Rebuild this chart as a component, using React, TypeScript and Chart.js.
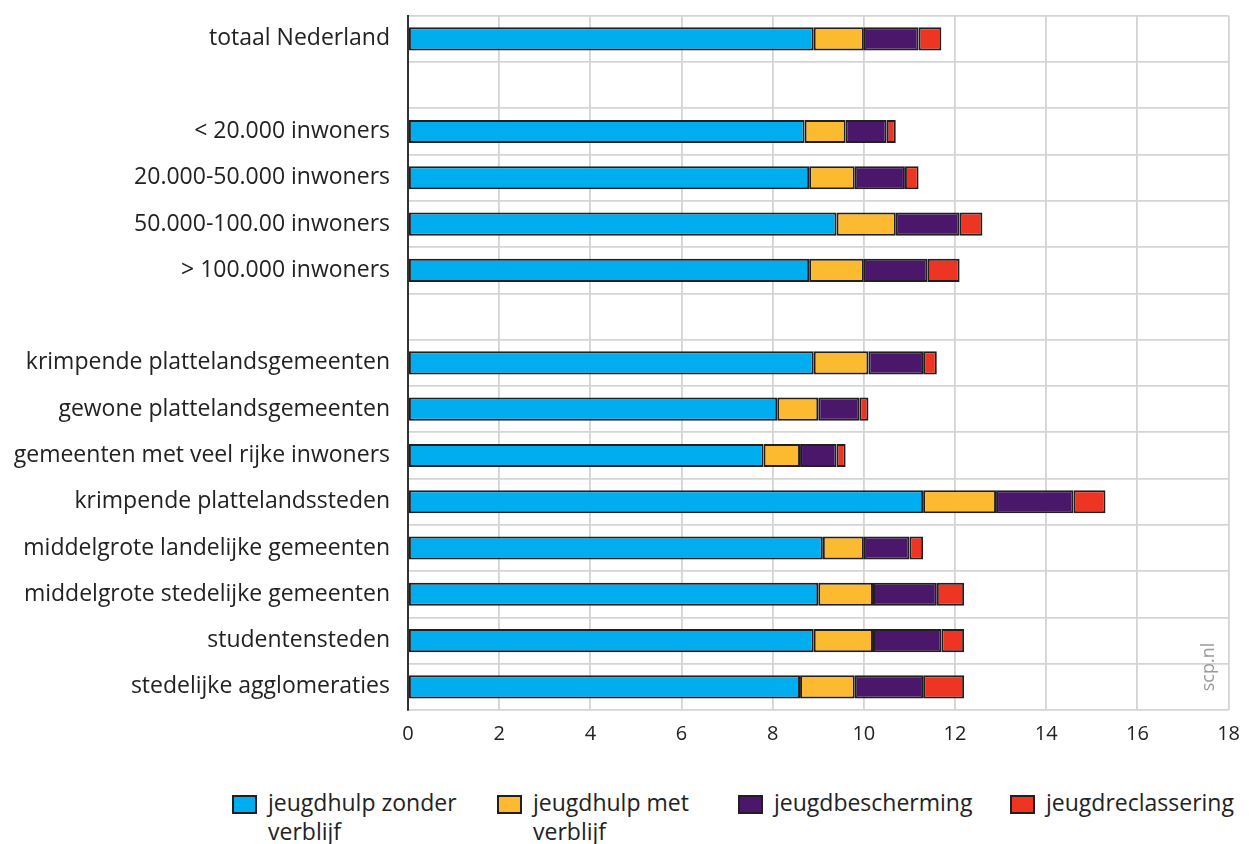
import React, { useEffect, useRef } from "react";
import { Chart, registerables } from "chart.js";

Chart.register(...registerables);

const categories = [
  "totaal Nederland",
  "",
  "< 20.000 inwoners",
  "20.000-50.000 inwoners",
  "50.000-100.00 inwoners",
  "> 100.000 inwoners",
  "",
  "krimpende plattelandsgemeenten",
  "gewone plattelandsgemeenten",
  "gemeenten met veel rijke inwoners",
  "krimpende plattelandssteden",
  "middelgrote landelijke gemeenten",
  "middelgrote stedelijke gemeenten",
  "studentensteden",
  "stedelijke agglomeraties",
];

const zonderVerblijf = [8.9, null, 8.7, 8.8, 9.4, 8.8, null, 8.9, 8.1, 7.8, 11.3, 9.1, 9.0, 8.9, 8.6];
const metVerblijf = [1.1, null, 0.9, 1.0, 1.3, 1.2, null, 1.2, 0.9, 0.8, 1.6, 0.9, 1.2, 1.3, 1.2];
const bescherming = [1.2, null, 0.9, 1.1, 1.4, 1.4, null, 1.2, 0.9, 0.8, 1.7, 1.0, 1.4, 1.5, 1.5];
const reclassering = [0.5, null, 0.2, 0.3, 0.5, 0.7, null, 0.3, 0.2, 0.2, 0.7, 0.3, 0.6, 0.5, 0.9];

const seriesLabels = [
  "jeugdhulp zonder verblijf",
  "jeugdhulp met verblijf",
  "jeugdbescherming",
  "jeugdreclassering",
];
const seriesColors = ["#00AEEF", "#FBBA30", "#4A176A", "#EE3524"];

const xTickMin = 0;
const xTickMax = 18;
const xTickStep = 2;

const FONT = "'Open Sans', 'Noto Sans', sans-serif";

const watermark = {
  id: "watermark",
  afterDraw(chart: any) {
    const { ctx, chartArea } = chart;
    ctx.save();
    ctx.translate(chartArea.right - 20, chartArea.bottom - 43);
    ctx.rotate(-Math.PI / 2);
    ctx.font = `18px ${FONT}`;
    ctx.fillStyle = "#9a9a9a";
    ctx.textAlign = "center";
    ctx.textBaseline = "middle";
    ctx.fillText("scp.nl", 0, 0);
    ctx.restore();
  },
};

export default function App() {
  const ref = useRef<HTMLCanvasElement | null>(null);

  useEffect(() => {
    document.documentElement.style.overflow = "hidden";
    if (!ref.current) return;
    const data = [zonderVerblijf, metVerblijf, bescherming, reclassering];
    const chart = new Chart(ref.current, {
      type: "bar",
      data: {
        labels: categories,
        datasets: data.map((d, i) => ({
          label: seriesLabels[i],
          data: d as any,
          backgroundColor: seriesColors[i],
          borderColor: "#231f20",
          borderWidth: 2,
          borderSkipped: false,
          categoryPercentage: 1,
          barPercentage: 0.5,
        })),
      },
      options: {
        indexAxis: "y",
        animation: false,
        responsive: false,
        maintainAspectRatio: false,
        layout: { padding: { top: 6, right: 0, bottom: 0, left: 0 } },
        plugins: {
          legend: { display: false },
          tooltip: { enabled: false },
        },
        scales: {
          x: {
            stacked: true,
            min: xTickMin,
            max: xTickMax,
            ticks: {
              stepSize: xTickStep,
              color: "#222",
              font: { family: FONT, size: 20 },
              padding: 12,
            },
            grid: { color: "#d4d4d4", lineWidth: 1.8, drawTicks: false },
            border: { display: false },
            afterFit: (s: any) => {
              s.height = 58;
            },
          },
          y: {
            stacked: true,
            ticks: {
              color: "#222",
              font: { family: FONT, size: 23 },
              padding: 18,
              autoSkip: false,
            },
            grid: { color: "#d4d4d4", lineWidth: 1.8, drawTicks: false },
            border: { display: true, color: "#333", width: 2 },
            afterFit: (s: any) => {
              s.width = 400;
            },
          },
        },
      },
      plugins: [watermark],
    });
    return () => chart.destroy();
  }, []);

  const legendItemWidths = [265, 241, 272, 239];
  const legendTextWidths = [205, 175, 235, 230];

  return (
    <div
      style={{
        position: "relative",
        display: "flow-root",
        width: 1241,
        height: 836,
        fontFamily: FONT,
      }}
    >
      <canvas
        ref={ref}
        width={1244}
        height={784}
        style={{ display: "block", marginTop: -24 }}
      />
      <div
        style={{
          position: "absolute",
          left: 224,
          top: 780,
          display: "flex",
          alignItems: "flex-start",
        }}
      >
        {seriesLabels.map((l, i) => (
          <div
            key={l}
            style={{ display: "flex", alignItems: "flex-start", width: legendItemWidths[i] }}
          >
            <div
              style={{
                width: 25,
                height: 19,
                background: seriesColors[i],
                border: "2px solid #231f20",
                boxSizing: "border-box",
                marginTop: 7,
                marginRight: 11,
                flex: "none",
              }}
            />
            <div
              style={{
                maxWidth: legendTextWidths[i],
                fontSize: 23,
                lineHeight: "29px",
                color: "#222",
              }}
            >
              {l}
            </div>
          </div>
        ))}
      </div>
    </div>
  );
}
